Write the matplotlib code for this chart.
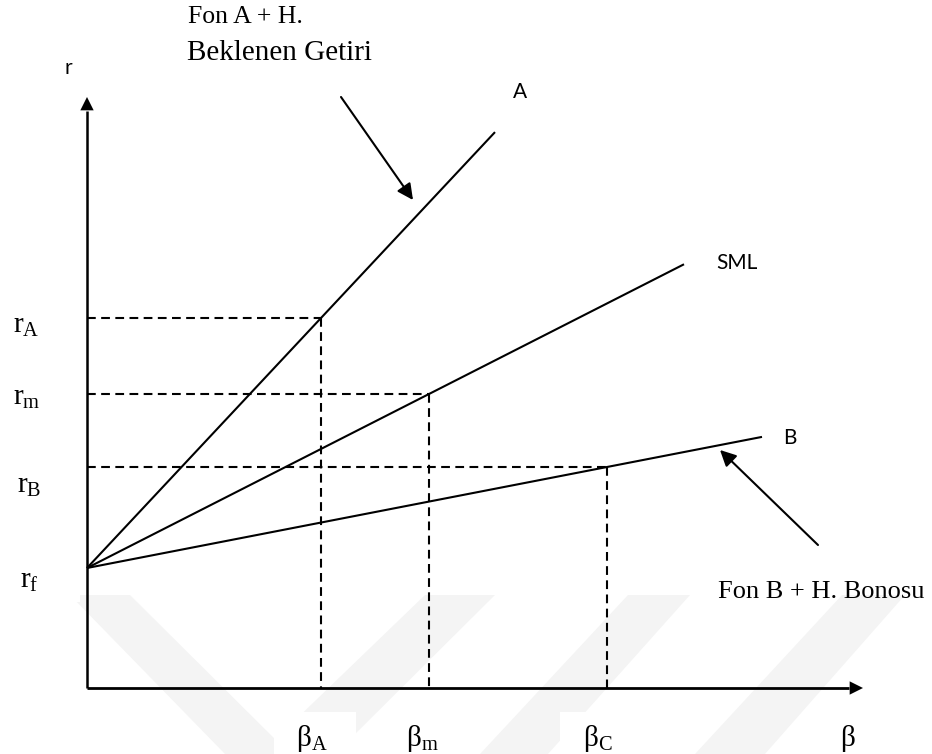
import matplotlib
matplotlib.use('Agg')
import matplotlib.pyplot as plt
from matplotlib.patches import FancyArrowPatch, Polygon, Rectangle

# ---- data (arbitrary units: beta on x, expected return r on y) ----
r_f = 1.20
line_labels = ['A', 'SML', 'B']
beta_points = [2.34, 3.42, 5.20]      # beta_A, beta_m, beta_C
r_points = [3.70, 2.94, 2.21]         # r_A, r_m, r_B
line_end_beta = [4.08, 5.97, 6.75]
r_tick_labels = [r'$\mathrm{r}_{\mathrm{A}}$', r'$\mathrm{r}_{\mathrm{m}}$', r'$\mathrm{r}_{\mathrm{B}}$']
beta_tick_labels = [r'$\mathrm{β}_{\mathrm{A}}$', r'$\mathrm{β}_{\mathrm{m}}$', r'$\mathrm{β}_{\mathrm{C}}$']
x_axis_end = 7.76
y_axis_end = 5.91

plt.rcParams['mathtext.fontset'] = 'custom'
plt.rcParams['mathtext.rm'] = 'Liberation Serif'
plt.rcParams['mathtext.it'] = 'Liberation Serif:italic'
serif = 'Liberation Serif'
sans = 'Lato'

fig = plt.figure(figsize=(9.32, 7.54), dpi=100)
ax = fig.add_axes([0, 0, 1, 1])
ax.set_xlim(-0.87, 8.45)
ax.set_ylim(-0.66, 6.88)
ax.axis('off')

def P(px, py):
    return ((px - 87) / 100.0, (688 - py) / 100.0)

# faint background watermark bands
wm = '#f4f4f4'
bands = [
    [(70, 595), (130, 595), (290, 754), (225, 754)],
    [(260, 754), (335, 754), (495, 595), (425, 595)],
    [(480, 754), (548, 754), (690, 595), (628, 595)],
    [(695, 754), (765, 754), (905, 595), (842, 595)],
]
for b in bands:
    ax.add_patch(Polygon([P(*p) for p in b], closed=True, facecolor=wm, edgecolor='none', zorder=0))
# white label boxes covering watermark
for (x0, x1, y0, y1) in [(274, 356, 712, 754), (392, 474, 712, 754), (560, 641, 712, 754), (0, 80, 560, 602)]:
    (a, b0), (c, d) = P(x0, y1), P(x1, y0)
    ax.add_patch(Rectangle((a, b0), c - a, d - b0, facecolor='white', edgecolor='none', zorder=0.5))

lw = 1.5
# axes with arrowheads
ax.plot([0, 0], [0, y_axis_end - 0.14], color='black', lw=lw + 0.3, solid_capstyle='butt')
ax.plot([0, x_axis_end - 0.14], [0, 0], color='black', lw=lw + 0.5, solid_capstyle='butt')
ax.add_patch(FancyArrowPatch((0, y_axis_end - 0.2), (0, y_axis_end), arrowstyle='-|>',
                             mutation_scale=24, color='black', lw=0, shrinkA=0, shrinkB=0))
ax.add_patch(FancyArrowPatch((x_axis_end - 0.2, 0), (x_axis_end, 0), arrowstyle='-|>',
                             mutation_scale=24, color='black', lw=0, shrinkA=0, shrinkB=0))

# lines from r_f
for lab, b, r, xe in zip(line_labels, beta_points, r_points, line_end_beta):
    slope = (r - r_f) / b
    ax.plot([0, xe], [r_f, r_f + slope * xe], color='black', lw=lw, solid_capstyle='butt')

# dashed guides
dash = (0, (4.2, 2.6))
for b, r in zip(beta_points, r_points):
    ax.plot([0, b], [r, r], color='black', lw=lw, linestyle=dash)
    ax.plot([b, b], [r, 0], color='black', lw=lw, linestyle=dash)

# line labels
ax.text(*P(513, 92), 'A', fontsize=15, family=sans, ha='left', va='center')
ax.text(*P(716, 263), 'SML', fontsize=15, family=sans, ha='left', va='center')
ax.text(*P(783, 438), 'B', fontsize=15, family=sans, ha='left', va='center')
ax.text(*P(68, 68), 'r', fontsize=15, family=sans, ha='center', va='center')

# r labels
r_label_pos = [P(13, 325), P(13, 397), P(17, 485)]
for (x, y), t in zip(r_label_pos, r_tick_labels):
    ax.text(x, y, t, fontsize=21, ha='left', va='center')
ax.text(*P(20, 580), r'$\mathrm{r}_{\mathrm{f}}$', fontsize=21, ha='left', va='center')

# beta labels
beta_label_x = [312, 422, 598]
for px, t in zip(beta_label_x, beta_tick_labels):
    ax.text(*P(px, 738), t, fontsize=21, ha='center', va='center')
ax.text(*P(848, 738), 'β', fontsize=21, family=serif, ha='center', va='center')

# annotations
ax.text(*P(188, 17), 'Fon A + H.', fontsize=18.5, family=serif, ha='left', va='center')
ax.text(*P(187, 53), 'Beklenen Getiri', fontsize=21, family=serif, ha='left', va='center')
ax.add_patch(FancyArrowPatch(P(341, 97), P(413, 200), arrowstyle='-|>', mutation_scale=24,
                             color='black', lw=1.5, shrinkA=0, shrinkB=0))
ax.text(*P(718, 592), 'Fon B + H. Bonosu', fontsize=19, family=serif, ha='left', va='center')
ax.add_patch(FancyArrowPatch(P(818, 545), P(720, 450), arrowstyle='-|>', mutation_scale=24,
                             color='black', lw=1.5, shrinkA=0, shrinkB=0))

fig.savefig('out.png', dpi=100)
